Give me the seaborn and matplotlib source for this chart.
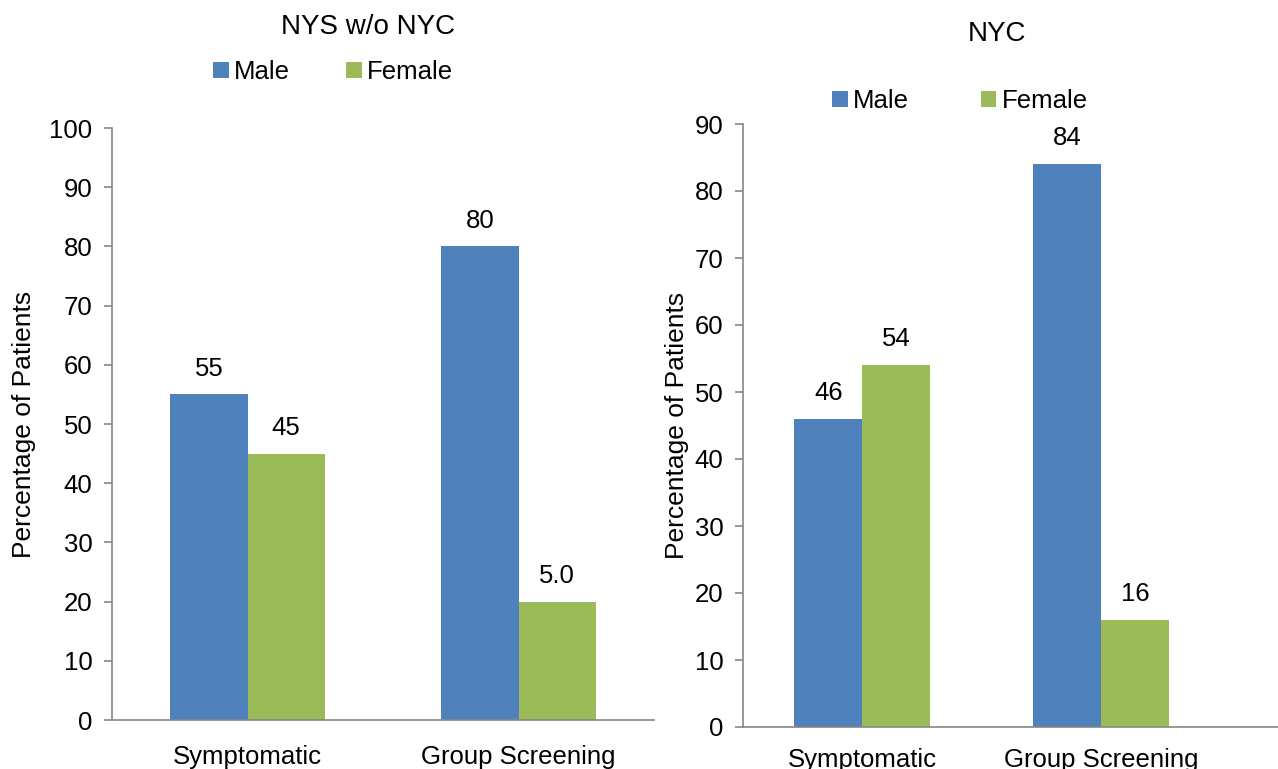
import pandas as pd
import matplotlib
matplotlib.use('Agg')
import matplotlib.pyplot as plt
import seaborn as sns

# data
categories = ['Symptomatic', 'Group Screening']
genders = ['Male', 'Female']
nys_male = [55, 80]
nys_female = [45, 20]
nys_labels_male = ['55', '80']
nys_labels_female = ['45', '5.0']
nyc_male = [46, 84]
nyc_female = [54, 16]
nyc_labels_male = ['46', '84']
nyc_labels_female = ['54', '16']

colors = {'Male': '#4F81BD', 'Female': '#9BBB59'}

sns.set_style('white')
plt.rcParams['font.family'] = ['Liberation Sans', 'DejaVu Sans']
plt.rcParams['text.color'] = 'black'
plt.rcParams['axes.labelcolor'] = 'black'
plt.rcParams['xtick.color'] = 'black'
plt.rcParams['ytick.color'] = 'black'

def make_df(male, female):
    return pd.DataFrame({
        'category': categories * 2,
        'gender': ['Male'] * 2 + ['Female'] * 2,
        'value': male + female,
    })

fig = plt.figure(figsize=(12.78, 7.69), dpi=100)
W, H = 1278, 769
ax1 = fig.add_axes([112 / W, (H - 720) / H, 542 / W, 592 / H])
ax2 = fig.add_axes([743 / W, (H - 727) / H, 535 / W, 603 / H])

# ax, data, labels, ymax, xlim, ylabel pad, xtick pad
panels = [
    (ax1, make_df(nys_male, nys_female), [nys_labels_male, nys_labels_female], 100, (-0.5, 1.5), 10, 18),
    (ax2, make_df(nyc_male, nyc_female), [nyc_labels_male, nyc_labels_female], 90, (-0.5, 1.74), 4, 15),
]

fs = 18.5
for ax, df, labels, ymax, xlim, lpad, xpad in panels:
    sns.barplot(data=df, x='category', y='value', hue='gender', hue_order=genders,
                palette=colors, width=0.57, gap=0, saturation=1, linewidth=0, ax=ax)
    for cont, lab in zip(ax.containers, labels):
        ax.bar_label(cont, labels=lab, padding=10, fontsize=fs)
    ax.set_ylim(0, ymax)
    ax.set_yticks(range(0, ymax + 1, 10))
    ax.set_xlim(*xlim)
    ax.set_xlabel('')
    ax.set_ylabel('Percentage of Patients', fontsize=19, labelpad=lpad)
    sns.despine(ax=ax)
    for s in ['left', 'bottom']:
        ax.spines[s].set_color('#868686')
        ax.spines[s].set_linewidth(1.2)
    ax.tick_params(axis='y', labelsize=fs, length=6, color='#868686', width=1.2,
                   labelcolor='black', direction='out', left=True, pad=8)
    ax.tick_params(axis='x', labelsize=fs, length=0, pad=xpad, labelcolor='black')
    ax.get_legend().remove()

handles, _ = ax1.get_legend_handles_labels()
fig.legend(handles, genders, loc='center', bbox_to_anchor=(333 / W, 1 - 72 / H), ncol=2,
           frameon=False, fontsize=fs, handlelength=0.6, handleheight=0.6,
           handletextpad=0.2, columnspacing=2.2)
fig.legend(handles, genders, loc='center', bbox_to_anchor=(960 / W, 1 - 101 / H), ncol=2,
           frameon=False, fontsize=fs, handlelength=0.6, handleheight=0.6,
           handletextpad=0.2, columnspacing=2.8)
fig.text(368 / W, 1 - 27 / H, 'NYS w/o NYC', ha='center', va='center', fontsize=20)
fig.text(997 / W, 1 - 34 / H, 'NYC', ha='center', va='center', fontsize=20)

fig.savefig('out.png', dpi=100)
